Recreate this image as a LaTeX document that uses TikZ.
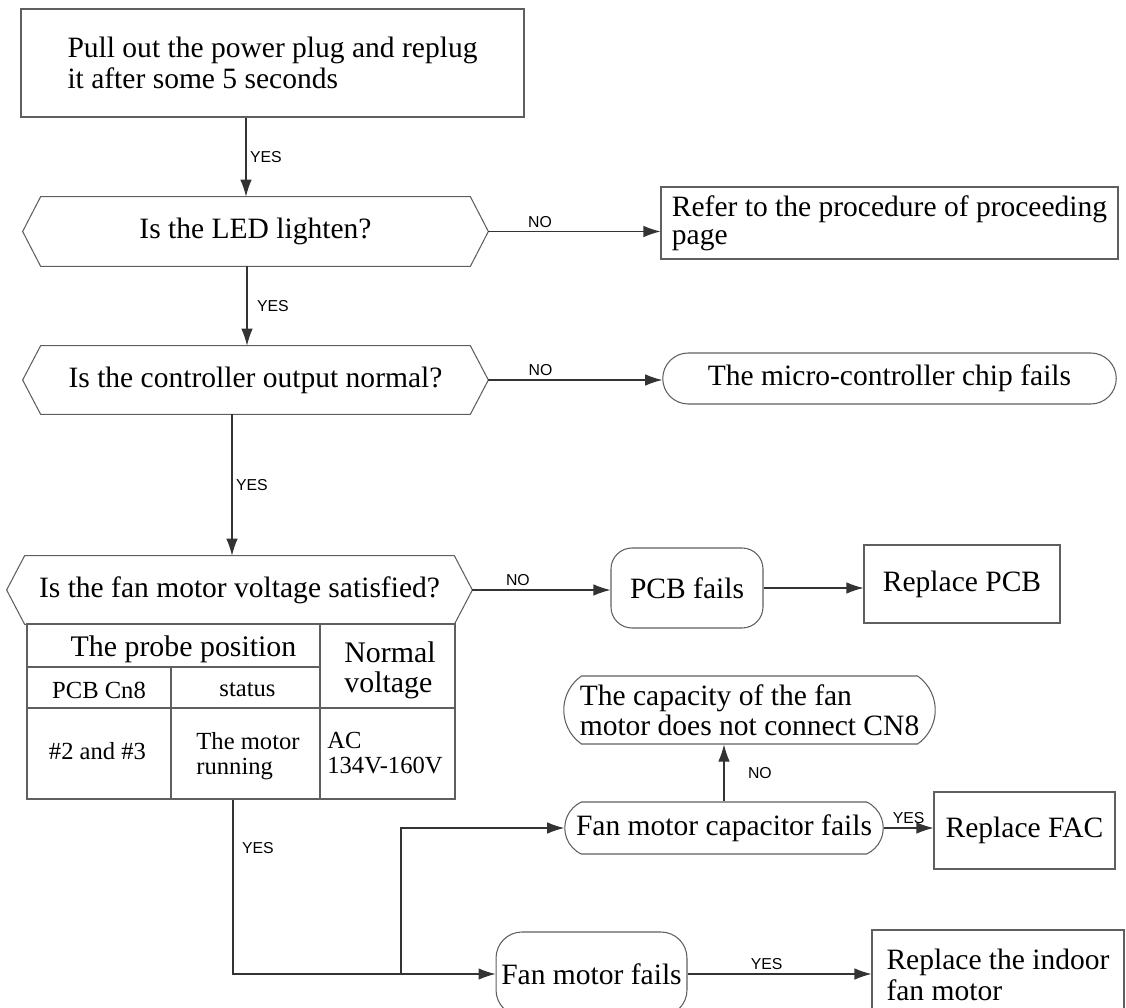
\documentclass[tikz,border=0pt]{standalone}
\usepackage{fontspec}
\setmainfont{Liberation Serif}
\setsansfont{Liberation Sans}
\usetikzlibrary{arrows.meta,shapes.misc}

\definecolor{linegray}{RGB}{95,95,95}

\begin{document}
\begin{tikzpicture}

\tikzset{box/.style = {shape=rectangle,draw=linegray,line width=0.6pt,inner sep=3pt,align=left,font=\fontsize{16.8}{17.6}\selectfont}}
\tikzset{pill/.style = {box,rounded corners=#1}}
\tikzset{capsule/.style = {box,shape=rounded rectangle,rounded rectangle arc length=#1,inner xsep=1pt}}
\tikzset{choice/.style = {shape=rectangle,inner sep=0pt,minimum width=9.3cm,font=\fontsize{16.8}{17.6}\selectfont}}
\tikzset{cell/.style = {inner sep=0pt,align=center,font=\fontsize{14}{14.3}\selectfont}}
\tikzset{flow/.style = {line width=0.6pt,draw=black!80,-{Latex[length=3.4mm,width=2.3mm]}}}
\tikzset{tag/.style = {font=\sffamily\fontsize{9}{9}\selectfont,inner sep=2pt}}

\useasboundingbox (0,0) rectangle (22.52,-20.16);

\node[box,minimum width=10.06cm,minimum height=2.16cm] (start) at (5.45,-1.26) {Pull out the power plug and replug\\it after some 5 seconds};

\node[choice,minimum height=1.38cm] (led) at (5.11,-4.63) {Is the LED lighten?};
\node[choice,minimum height=1.36cm] (ctrl) at (5.11,-7.6) {Is the controller output normal?};
\node[choice,minimum height=1.36cm] (volt) at (4.79,-11.8) {Is the fan motor voltage satisfied?};

\foreach \n in {led,ctrl,volt}
  \draw[draw=linegray,line width=0.6pt] ([xshift=0.36cm]\n.north west) -- ([xshift=-0.36cm]\n.north east) -- (\n.east)
    -- ([xshift=-0.36cm]\n.south east) -- ([xshift=0.36cm]\n.south west) -- (\n.west) -- cycle;

\node[box,minimum width=9.14cm,minimum height=1.44cm,font=\fontsize{16.8}{16}\selectfont] (refer) at (17.79,-4.46) {Refer to the procedure of proceeding\\page};
\node[capsule=180,minimum width=9.14cm,minimum height=1.02cm] (micro) at (17.79,-7.57) {The micro-controller chip fails};
\node[pill=0.42cm,minimum width=3.04cm,minimum height=1.6cm] (pcbf) at (13.74,-11.76) {PCB fails};
\node[box,minimum width=3.92cm,minimum height=1.56cm] (rpcb) at (19.24,-11.68) {Replace PCB};
\node[capsule=110,minimum width=7.5cm,minimum height=1.36cm,font=\fontsize{16.8}{17}\selectfont] (capy) at (14.99,-14.2) {The capacity of the fan\\motor does not connect CN8};
\node[capsule=130,minimum width=6.44cm,minimum height=1.04cm] (capf) at (14.48,-16.56) {Fan motor capacitor fails};
\node[box,minimum width=3.62cm,minimum height=1.54cm] (rfac) at (20.49,-16.61) {Replace FAC};
\node[pill=0.52cm,minimum width=3.66cm,minimum height=1.68cm] (fanf) at (11.83,-19.48) {Fan motor fails};
\node[box,minimum width=5.04cm,minimum height=1.8cm] (rind) at (19.96,-19.5) {Replace the indoor\\fan motor};

\node[draw=linegray,line width=0.6pt,minimum width=8.56cm,minimum height=3.5cm,inner sep=0pt] (tbl) at (4.82,-14.23) {};
\draw[draw=linegray,line width=0.6pt] (6.4,-12.48) -- (6.4,-15.98)
  (0.54,-13.34) -- (6.4,-13.34)
  (3.42,-13.34) -- (3.42,-15.98)
  (0.54,-14.16) -- (9.1,-14.16);

\node[cell,font=\fontsize{17}{17}\selectfont] (probe) at (3.67,-12.98) {The probe position};
\node[cell,align=left,font=\fontsize{17}{17.2}\selectfont] (normal) at (7.8,-13.4) {Normal\\voltage};
\node[cell] (cn8) at (1.98,-13.8) {PCB Cn8};
\node[cell] (status) at (4.95,-13.8) {status};
\node[cell] (pins) at (1.95,-15.02) {\#2 and \#3};
\node[cell,align=left] (run) at (4.96,-15.12) {The motor\\running};
\node[cell,anchor=west,align=left] (range) at (6.54,-15.06) {AC\\134V-160V};

\draw[flow] ([xshift=-0.53cm]start.south) -- node[tag,midway,right] {YES} ([xshift=-0.53cm]start.south |- led.north);
\draw[flow] ([xshift=-0.17cm]led.south) -- node[tag,midway,right,xshift=0.12cm] {YES} ([xshift=-0.17cm]led.south |- ctrl.north);
\draw[flow] ([xshift=-0.47cm]ctrl.south) -- node[tag,midway,right] {YES} ([xshift=-0.47cm]ctrl.south |- volt.north);

\draw[flow] (led.east) -- node[tag,pos=0.3,above] {NO} (led.east -| refer.west);
\draw[flow] (ctrl.east) -- node[tag,pos=0.3,above] {NO} (ctrl.east -| micro.west);
\draw[flow] (volt.east) -- node[tag,pos=0.33,above] {NO} (volt.east -| pcbf.west);
\draw[flow] (pcbf.east) -- (pcbf.east -| rpcb.west);

\draw[flow] ([xshift=-0.16cm]tbl.south) |- node[tag,pos=0.14,right,xshift=0.1cm] {YES} (fanf.west);
\coordinate (split) at (8.02,-19.48);
\draw[flow] (split) |- (capf.west);

\draw[flow] (capf.north) -- node[tag,midway,right,xshift=0.4cm] {NO} (capf.north |- capy.south);
\draw[flow] (capf.east) -- node[tag,midway,above] {YES} (capf.east -| rfac.west);
\draw[flow] (fanf.east) -- node[tag,pos=0.43,above] {YES} (fanf.east -| rind.west);

\end{tikzpicture}
\end{document}
